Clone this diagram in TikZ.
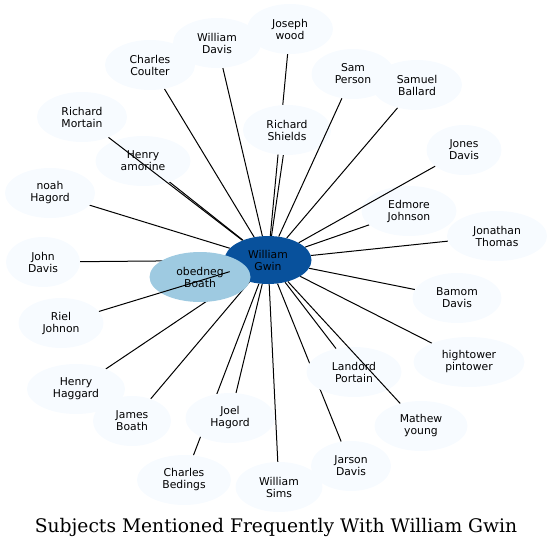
\documentclass[tikz,border=0pt]{standalone}
\usepackage{fontspec}
\usetikzlibrary{shapes.geometric,backgrounds}
\newfontfamily\labelfont{DejaVu Sans}
\newfontfamily\titlefont{DejaVu Serif}
\definecolor{pale}{HTML}{F7FBFF}
\definecolor{midblue}{HTML}{9ECAE1}
\definecolor{darkblue}{HTML}{08519C}
\begin{document}
\begin{tikzpicture}[x=1pt,y=-1pt,
  person/.style={ellipse,fill=pale,inner sep=0pt,minimum height=50pt,align=center,
    font=\labelfont\fontsize{10.8}{12}\selectfont},
  link/.style={line width=1pt}]
\useasboundingbox (0,0) rectangle (553,548);
% outer ring
\node[person,minimum width=86pt] (jwood) at (290,29) {Joseph\\wood};
\node[person,minimum width=88pt] (wdavis) at (217,43) {William\\Davis};
\node[person,minimum width=90pt] (ccoulter) at (150,65) {Charles\\Coulter};
\node[person,minimum width=90pt] (rmortain) at (82,117) {Richard\\Mortain};
\node[person,minimum width=95pt] (hamorine) at (143,161) {Henry\\amorine};
\node[person,minimum width=90pt] (nhagord) at (50,193) {noah\\Hagord};
\node[person,minimum width=74pt] (jdavis) at (43,262) {John\\Davis};
\node[person,minimum width=85pt] (rjohnon) at (61,323) {Riel\\Johnon};
\node[person,minimum width=98pt] (hhaggard) at (76,389) {Henry\\Haggard};
\node[person,minimum width=78pt] (jboath) at (132,421) {James\\Boath};
\node[person,minimum width=89pt] (jhagord) at (230,418) {Joel\\Hagord};
\node[person,minimum width=94pt] (cbedings) at (184,480) {Charles\\Bedings};
\node[person,minimum width=87pt] (wsims) at (279,487) {William\\Sims};
\node[person,minimum width=80pt] (jarson) at (351,466) {Jarson\\Davis};
\node[person,minimum width=95pt] (lportain) at (354,372) {Landord\\Portain};
\node[person,minimum width=93pt] (myoung) at (421,426) {Mathew\\young};
\node[person,minimum width=111pt] (htower) at (469,362) {hightower\\pintower};
\node[person,minimum width=89pt] (bdavis) at (457,298) {Bamom\\Davis};
\node[person,minimum width=100pt] (jthomas) at (497,236) {Jonathan\\Thomas};
\node[person,minimum width=95pt] (ejohnson) at (409,211) {Edmore\\Johnson};
\node[person,minimum width=75pt] (jonesd) at (464,150) {Jones\\Davis};
\node[person,minimum width=90pt] (sballard) at (417,85) {Samuel\\Ballard};
\node[person,minimum width=83pt] (sperson) at (353,74) {Sam\\Person};
\node[person,minimum width=88pt] (rshields) at (287,130) {Richard\\Shields};
% middle
\node[person,fill=darkblue,minimum width=87pt,minimum height=48pt] (gwin) at (268,260) {William\\Gwin};
\node[person,fill=midblue,minimum width=101pt] (oboath) at (200,277) {obedneg\\Boath};
\node[font=\titlefont\fontsize{18.7}{22}\selectfont] (title) at (276,527) {Subjects Mentioned Frequently With William Gwin};
% edges under the nodes
\begin{scope}[on background layer]
\draw[link] (gwin) -- (jwood);
\draw[link] (gwin) -- (wdavis);
\draw[link] (gwin) -- (ccoulter);
\draw[link] (gwin) -- (hamorine);
\draw[link] (gwin) -- (nhagord);
\draw[link] (gwin) -- (jdavis);
\draw[link] (gwin) -- (oboath);
\draw[link] (gwin) -- (hhaggard);
\draw[link] (gwin) -- (jboath);
\draw[link] (gwin) -- (jhagord);
\draw[link] (gwin) -- (cbedings);
\draw[link] (gwin) -- (wsims);
\draw[link] (gwin) -- (jarson);
\draw[link] (gwin) -- (lportain);
\draw[link] (gwin) -- (htower);
\draw[link] (gwin) -- (bdavis);
\draw[link] (gwin) -- (jthomas);
\draw[link] (gwin) -- (ejohnson);
\draw[link] (gwin) -- (sballard);
\draw[link] (gwin) -- (rshields);
\end{scope}
% edges over the nodes
\draw[link] (gwin) -- (rmortain);
\draw[link] (gwin) -- (rjohnon);
\draw[link] (gwin) -- (myoung);
\draw[link] (gwin) -- (jonesd);
\draw[link] (gwin) -- (sperson);
\end{tikzpicture}
\end{document}
